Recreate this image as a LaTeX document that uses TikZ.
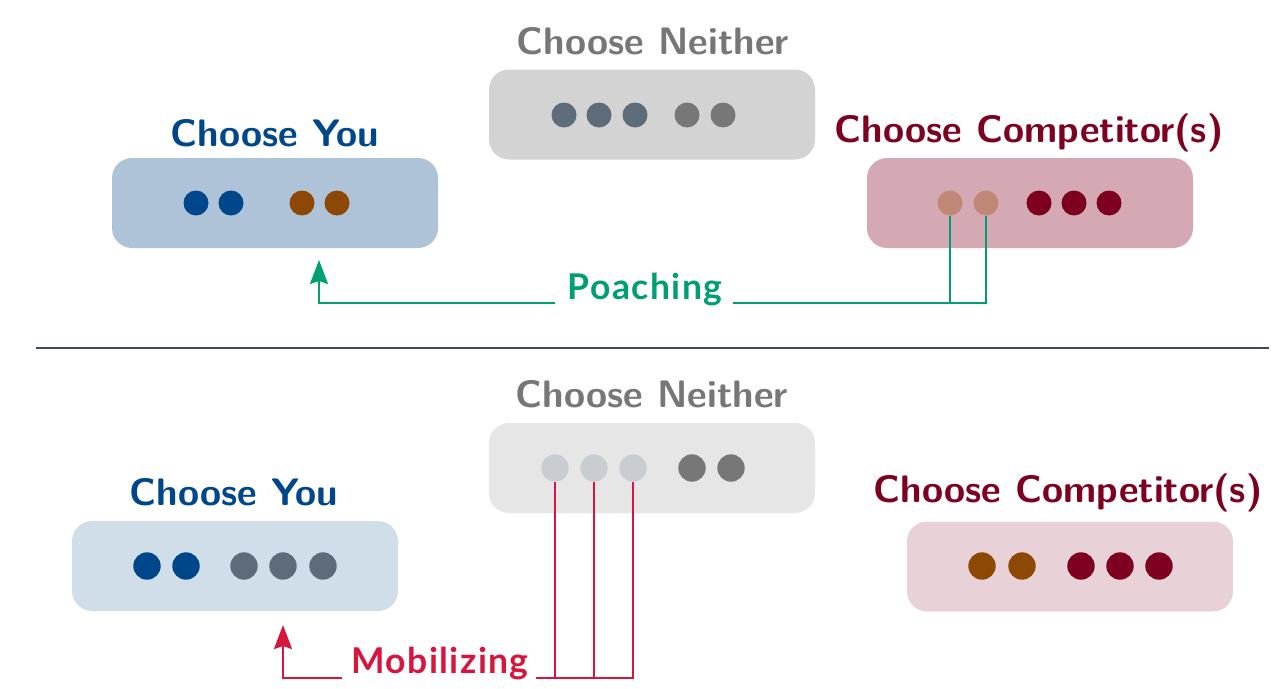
\documentclass[tikz,border=0pt]{standalone}
\usepackage{fontspec}
\newfontfamily\labfont{Lato}[LetterSpace=4]
\usetikzlibrary{arrows.meta}
\definecolor{cblue}{HTML}{00468B}
\definecolor{cbrown}{HTML}{8E4805}
\definecolor{cred}{HTML}{7D0020}
\definecolor{cgrey}{HTML}{777777}
\definecolor{cslate}{HTML}{5E6B78}
\definecolor{cfade}{HTML}{BF8776}
\definecolor{clight}{HTML}{C9CDD1}
\definecolor{boxYouA}{HTML}{AEC3D7}
\definecolor{boxNeiA}{HTML}{D3D3D3}
\definecolor{boxComA}{HTML}{D5A9B3}
\definecolor{boxYouB}{HTML}{D0DEEA}
\definecolor{boxNeiB}{HTML}{E6E6E6}
\definecolor{boxComB}{HTML}{E8D2D7}
\definecolor{cgreen}{HTML}{009E73}
\definecolor{ccrimson}{HTML}{D6163F}
\definecolor{cdiv}{HTML}{3D4A52}
\tikzset{
  grpbox/.style={rounded corners=20pt, minimum width=326pt, minimum height=90pt, inner sep=0pt},
  dotA/.style={circle, inner sep=0pt, minimum size=25pt},
  dotB/.style={circle, inner sep=0pt, minimum size=27.4pt},
  title/.style={anchor=base, inner sep=0pt, font=\fontsize{38.3}{46}\selectfont\sffamily\bfseries},
  flowlab/.style={anchor=base, inner sep=0pt, font=\fontsize{35.5}{42}\selectfont\labfont\bfseries},
  flow/.style={line width=2pt},
  tip/.style={-{Stealth[length=24pt,width=18pt,inset=3pt]}},
}
\begin{document}
\begin{tikzpicture}[x=1pt,y=-1pt]
\useasboundingbox (0,0) rectangle (1276,688);
% ---------- top panel ----------
\node[grpbox, fill=boxYouA] (youA) at (275,203) {};
\node[grpbox, fill=boxNeiA] (neiA) at (652,114.5) {};
\node[grpbox, fill=boxComA] (comA) at (1030,203) {};
\node[title, text=cblue] (tYouA) at (275,146) {Choose You};
\node[title, text=cgrey] (tNeiA) at (653,54) {Choose Neither};
\node[title, text=cred] (tComA) at (1029,142) {Choose Competitor(s)};
% dots
\node[dotA, fill=cblue] (ya1) at (196,203) {};
\node[dotA, fill=cblue] (ya2) at (231,203) {};
\node[dotA, fill=cbrown] (ya3) at (302,203) {};
\node[dotA, fill=cbrown] (ya4) at (337,203) {};
\node[dotA, fill=cslate] (na1) at (564,115) {};
\node[dotA, fill=cslate] (na2) at (599,115) {};
\node[dotA, fill=cslate] (na3) at (635,115) {};
\node[dotA, fill=cgrey] (na4) at (687,115) {};
\node[dotA, fill=cgrey] (na5) at (723,115) {};
\node[dotA, fill=cfade] (ca1) at (950,203) {};
\node[dotA, fill=cfade] (ca2) at (986,203) {};
\node[dotA, fill=cred] (ca3) at (1039,203) {};
\node[dotA, fill=cred] (ca4) at (1074,203) {};
\node[dotA, fill=cred] (ca5) at (1109,203) {};
% poaching
\node[flowlab, text=cgreen] (poach) at (645,299) {Poaching};
\coordinate (pj) at (986,303);
\coordinate (pl) at (555,303);
\coordinate (pr) at (733,303);
\coordinate (ptip) at (319,260);
\draw[flow, cgreen] (ca1.south) -- (ca1.south |- pj);
\draw[flow, cgreen] (ca2.south) |- (pr);
\draw[flow, cgreen, tip] (pl) -| (ptip);
% divider
\coordinate (dl) at (36,348);
\coordinate (dr) at (1269,348);
\draw[line width=2pt, cdiv] (dl) -- (dr);
% ---------- bottom panel ----------
\node[grpbox, fill=boxYouB] (youB) at (235,566) {};
\node[grpbox, fill=boxNeiB] (neiB) at (652,468) {};
\node[grpbox, fill=boxComB] (comB) at (1070,566.5) {};
\node[title, text=cblue] (tYouB) at (234,505) {Choose You};
\node[title, text=cgrey] (tNeiB) at (652,407) {Choose Neither};
\node[title, text=cred] (tComB) at (1068,502) {Choose Competitor(s)};
\node[dotB, fill=cblue] (yb1) at (147,566) {};
\node[dotB, fill=cblue] (yb2) at (186,566) {};
\node[dotB, fill=cslate] (yb3) at (244,566) {};
\node[dotB, fill=cslate] (yb4) at (283,566) {};
\node[dotB, fill=cslate] (yb5) at (323,566) {};
\node[dotB, fill=clight] (nb1) at (555,468) {};
\node[dotB, fill=clight] (nb2) at (594,468) {};
\node[dotB, fill=clight] (nb3) at (633,468) {};
\node[dotB, fill=cgrey] (nb4) at (692,468) {};
\node[dotB, fill=cgrey] (nb5) at (731,468) {};
\node[dotB, fill=cbrown] (cb1) at (982,566) {};
\node[dotB, fill=cbrown] (cb2) at (1022,566) {};
\node[dotB, fill=cred] (cb3) at (1081,566) {};
\node[dotB, fill=cred] (cb4) at (1120,566) {};
\node[dotB, fill=cred] (cb5) at (1159,566) {};
% mobilizing
\node[flowlab, text=ccrimson] (mob) at (440,673) {Mobilizing};
\coordinate (mj) at (633,678);
\coordinate (ml) at (342,678);
\coordinate (mr) at (536,678);
\coordinate (mtip) at (283,625);
\draw[flow, ccrimson] (nb1.south) -- (nb1.south |- mj);
\draw[flow, ccrimson] (nb2.south) -- (nb2.south |- mj);
\draw[flow, ccrimson] (nb3.south) |- (mr);
\draw[flow, ccrimson, tip] (ml) -| (mtip);
\end{tikzpicture}
\end{document}
